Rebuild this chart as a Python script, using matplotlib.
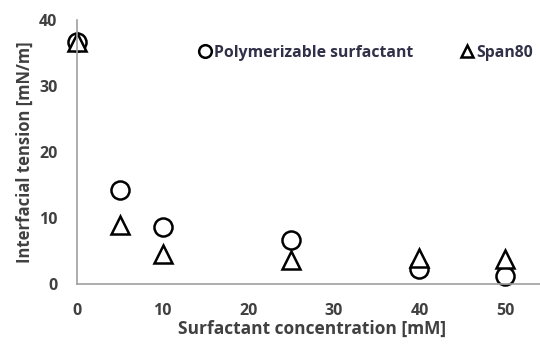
import numpy as np
import matplotlib.pyplot as plt

plt.rcParams['font.family'] = ['Open Sans', 'DejaVu Sans']

# data
conc = [0, 5, 10, 25, 40, 50]
poly_surf = [36.6, 14.2, 8.6, 6.6, 2.2, 1.2]
span80 = [36.6, 8.9, 4.6, 3.6, 3.9, 3.8]

x_ticks = [0, 10, 20, 30, 40, 50]
y_ticks = [0, 10, 20, 30, 40]

txt = '#404040'

fig = plt.figure(figsize=(5.4, 3.48), dpi=100)
ax = fig.add_axes([0.1426, 0.184, 0.872, 0.7586])

ax.plot(conc, poly_surf, ls='none', marker='o', ms=13, mfc='white',
        mec='black', mew=1.8, label='Polymerizable surfactant', clip_on=False)
ax.plot(conc, span80, ls='none', marker='^', ms=13, mfc='white',
        mec='black', mew=1.8, label='Span80', clip_on=False)

ax.set_xlim(0, 55)
ax.set_ylim(0, 40)
ax.set_xticks(x_ticks)
ax.set_yticks(y_ticks)
ax.tick_params(length=0, labelsize=11.5, labelcolor=txt)
ax.tick_params(axis='x', pad=14)
ax.tick_params(axis='y', pad=14)
for lab in ax.get_xticklabels() + ax.get_yticklabels():
    lab.set_fontweight('bold')

for s in ['top', 'right']:
    ax.spines[s].set_visible(False)
for s in ['left', 'bottom']:
    ax.spines[s].set_color('#a0a0a0')
    ax.spines[s].set_linewidth(1.2)

ax.set_xlabel('Surfactant concentration [mM]', fontsize=12.5, fontweight='bold',
              color=txt, labelpad=0)
ax.set_ylabel('Interfacial tension [mN/m]', fontsize=12, fontweight='bold',
              color=txt, labelpad=4)

leg = ax.legend(loc='upper left', bbox_to_anchor=(0.232, 0.96), ncol=2, frameon=False,
                handlelength=0.6, handletextpad=0.3, columnspacing=3.1,
                markerscale=0.7, prop={'weight': 'bold', 'size': 11.3})
for t in leg.get_texts():
    t.set_color('#303048')

fig.savefig('out.png', dpi=100)
